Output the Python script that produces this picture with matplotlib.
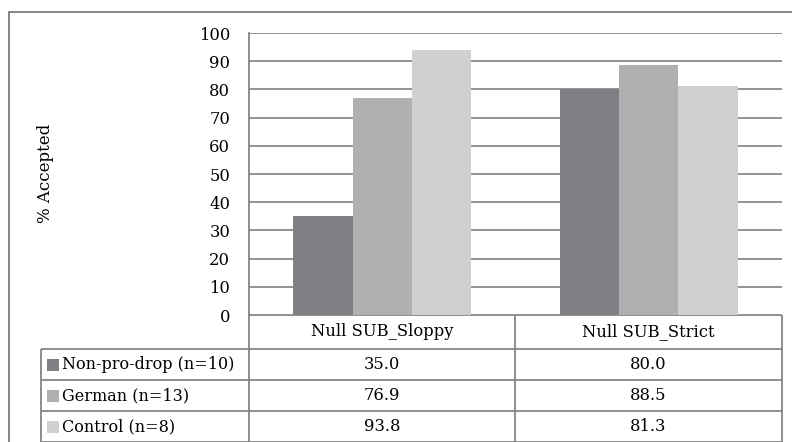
import matplotlib.pyplot as plt
from matplotlib.patches import Rectangle
import numpy as np

categories = ['Null SUB_Sloppy', 'Null SUB_Strict']
groups = ['Non-pro-drop (n=10)', 'German (n=13)', 'Control (n=8)']
values = [
    [35.0, 80.0],
    [76.9, 88.5],
    [93.8, 81.3],
]
colors = ['#808084', '#b0b0b3', '#d0d0d2']
yticks = list(range(0, 101, 10))

plt.rcParams['font.family'] = ['DejaVu Serif']
W, H = 792, 442
fig = plt.figure(figsize=(W / 100, H / 100), dpi=100)


def box(x0, y0, x1, y1):
    # pixel coords (top-left origin) -> figure fraction
    return [x0 / W, 1 - y1 / H, (x1 - x0) / W, (y1 - y0) / H]


line_c = '#858585'
fs = 11.8

# outer frame
fig.patches.append(Rectangle((9 / W, -0.1), 1.2, 1 - 12 / H + 0.1, transform=fig.transFigure,
                             fill=False, edgecolor='#707070', linewidth=1.2))

# === Bar chart ===
ax = fig.add_axes(box(249, 33, 782, 315))
n = len(groups)
bw = 1 / (n + 1.5)
x = np.arange(len(categories))
for i, (g, vals) in enumerate(zip(groups, values)):
    ax.bar(x + (i - (n - 1) / 2) * bw, vals, bw, color=colors[i], zorder=3, linewidth=0)

ax.set_xlim(-0.5, len(categories) - 0.5)
ax.set_ylim(0, 100)
ax.set_yticks(yticks)
ax.tick_params(axis='y', length=0, pad=13.5, labelsize=fs)
ax.set_xticks([])
ax.yaxis.grid(True, color='#8a8a8a', linewidth=1.3, zorder=0)
for s in ['top', 'right', 'bottom']:
    ax.spines[s].set_visible(False)
ax.spines['left'].set_color(line_c)
ax.spines['left'].set_linewidth(1.3)
fig.text(45 / W, 1 - 173 / H, '% Accepted', rotation=90, ha='center', va='center', fontsize=12)

# === Data table ===
tx = fig.add_axes(box(0, 315, W, H))
tx.set_xlim(0, W)
tx.set_ylim(H, 315)
tx.axis('off')
rows = [315, 349, 380, 411, 442]
cols = [41, 249, 515, 782]
lk = dict(color=line_c, linewidth=1.3, solid_capstyle='butt')
tx.plot([249, 782], [rows[0]] * 2, **lk)
for r in rows[1:]:
    tx.plot([41, 782], [r, r], **lk)
tx.plot([41, 41], [rows[1], H], **lk)
for c in cols[1:]:
    tx.plot([c, c], [rows[0], H], **lk)

for j, cat in enumerate(categories):
    cx = (cols[j + 1] + cols[j + 2]) / 2
    tx.text(cx, (rows[0] + rows[1]) / 2, cat, ha='center', va='center', fontsize=fs)
for i, g in enumerate(groups):
    cy = (rows[i + 1] + rows[i + 2]) / 2
    tx.add_patch(Rectangle((47, cy - 6), 12, 12, color=colors[i], linewidth=0))
    tx.text(62, cy, g, ha='left', va='center', fontsize=11.5)
    for j in range(len(categories)):
        cx = (cols[j + 1] + cols[j + 2]) / 2
        tx.text(cx, cy, f'{values[i][j]:.1f}', ha='center', va='center', fontsize=fs)

plt.savefig('out.png', dpi=100)
